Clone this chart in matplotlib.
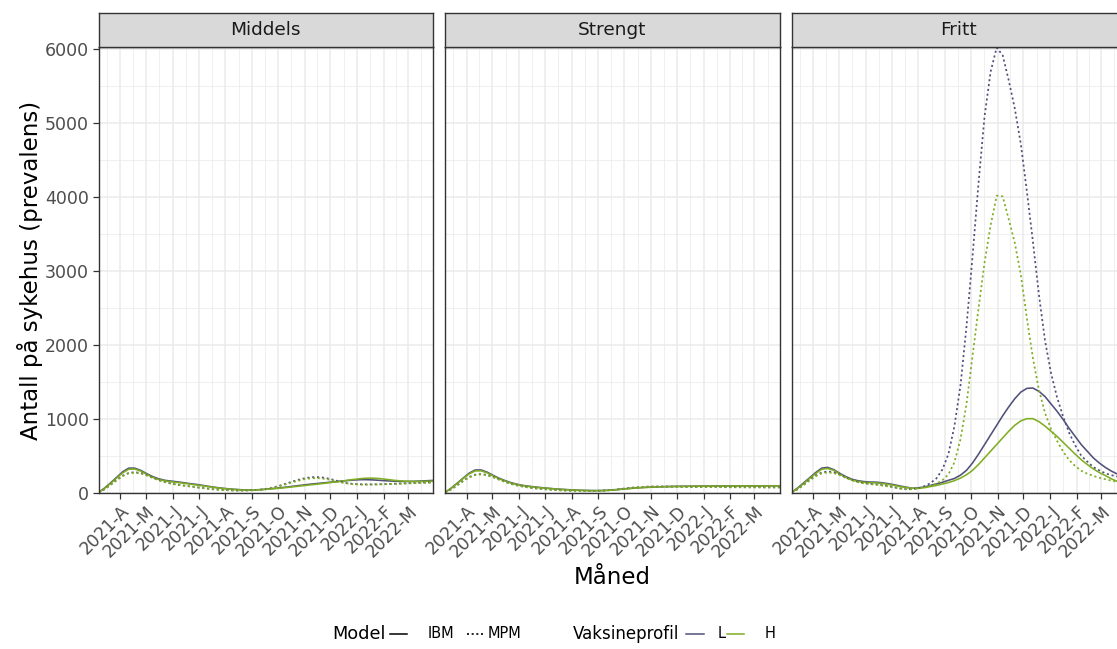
import matplotlib
matplotlib.use('Agg')
import matplotlib.pyplot as plt
from matplotlib.lines import Line2D
import pandas as pd

# Weekly hospital prevalence, March 2021 - April 2022
dates = pd.date_range('2021-03-07', periods=57, freq='7D')

middels_ibm_l = [0, 60, 130, 205, 280, 330, 330, 300, 255, 215,
                 185, 165, 155, 145, 134, 122, 112, 100, 86, 74,
                 63, 54, 46, 40, 36, 35, 36, 40, 47, 55,
                 63, 72, 82, 92, 102, 112, 120, 128, 136, 145,
                 153, 160, 167, 172, 174, 172, 168, 162, 157, 153,
                 150, 150, 151, 154, 158, 162, 165]
middels_ibm_h = [0, 55, 122, 195, 265, 315, 318, 290, 245, 205,
                 175, 158, 145, 136, 126, 115, 104, 93, 81, 70,
                 60, 51, 44, 39, 35, 34, 35, 38, 44, 51,
                 58, 66, 75, 84, 93, 102, 111, 120, 130, 140,
                 150, 162, 174, 184, 192, 195, 192, 185, 175, 165,
                 158, 153, 150, 150, 151, 153, 155]
middels_mpm_l = [0, 45, 105, 170, 228, 265, 275, 265, 235, 200,
                 168, 142, 122, 108, 96, 85, 74, 64, 54, 45,
                 38, 33, 29, 27, 27, 29, 33, 40, 52, 70,
                 92, 118, 145, 170, 190, 205, 210, 205, 190, 170,
                 148, 130, 118, 112, 110, 110, 111, 113, 116, 119,
                 122, 125, 128, 131, 134, 137, 140]
middels_mpm_h = [0, 43, 102, 165, 222, 258, 268, 258, 230, 196,
                 165, 140, 120, 106, 94, 83, 72, 62, 52, 43,
                 36, 31, 28, 26, 26, 28, 32, 39, 50, 66,
                 86, 110, 135, 158, 177, 190, 195, 191, 178, 160,
                 140, 124, 114, 109, 107, 107, 108, 110, 113, 116,
                 119, 122, 125, 128, 131, 134, 137]

strengt_ibm_l = [0, 58, 125, 195, 262, 305, 305, 275, 232, 192,
                 160, 132, 110, 95, 84, 74, 66, 58, 51, 45,
                 40, 36, 32, 29, 27, 26, 27, 30, 36, 44,
                 52, 58, 64, 69, 73, 76, 79, 81, 83, 84,
                 85, 86, 87, 88, 88, 89, 89, 89, 90, 90,
                 90, 90, 90, 91, 91, 91, 91]
strengt_ibm_h = [0, 55, 120, 188, 252, 292, 293, 265, 224, 185,
                 154, 127, 106, 91, 80, 71, 63, 56, 49, 43,
                 38, 34, 31, 28, 26, 25, 26, 29, 34, 41,
                 49, 56, 62, 67, 71, 74, 77, 79, 81, 82,
                 83, 84, 85, 86, 86, 87, 87, 87, 88, 88,
                 88, 88, 88, 89, 89, 89, 89]
strengt_mpm_l = [0, 42, 98, 158, 210, 242, 250, 238, 210, 176,
                 144, 117, 96, 80, 67, 57, 49, 42, 36, 31,
                 27, 24, 22, 21, 21, 22, 25, 30, 37, 46,
                 56, 65, 72, 77, 80, 81, 81, 80, 79, 78,
                 77, 76, 75, 74, 74, 73, 73, 72, 72, 72,
                 71, 71, 71, 70, 70, 70, 70]
strengt_mpm_h = [0, 40, 95, 153, 204, 236, 244, 232, 205, 172,
                 140, 114, 94, 78, 65, 55, 47, 40, 35, 30,
                 26, 23, 21, 20, 20, 21, 24, 29, 36, 45,
                 55, 64, 71, 76, 79, 80, 80, 79, 78, 77,
                 76, 75, 74, 73, 73, 72, 72, 71, 71, 71,
                 70, 70, 70, 69, 69, 69, 69]

fritt_ibm_l = [0, 60, 130, 200, 270, 330, 340, 310, 260, 215,
               180, 160, 148, 142, 140, 132, 120, 105, 88, 72,
               58, 62, 75, 95, 115, 138, 165, 190, 235, 300,
               400, 520, 650, 780, 910, 1040, 1160, 1270, 1360, 1410,
               1415, 1370, 1300, 1200, 1100, 990, 870, 760, 650, 560,
               470, 400, 340, 290, 250, 215, 185]
fritt_ibm_h = [0, 55, 120, 190, 255, 315, 325, 300, 250, 205,
               170, 150, 138, 132, 130, 122, 110, 96, 80, 68,
               58, 56, 65, 80, 95, 115, 135, 160, 195, 240,
               300, 380, 470, 560, 650, 740, 830, 910, 970, 1000,
               1000, 960, 900, 830, 760, 680, 600, 520, 445, 380,
               320, 270, 230, 185, 150, 125, 105]
fritt_mpm_l = [0, 45, 105, 170, 230, 270, 285, 275, 245, 205,
               170, 145, 128, 118, 110, 100, 88, 70, 55, 45,
               45, 58, 85, 125, 190, 310, 520, 900, 1450, 2250,
               3200, 4200, 5100, 5700, 6025, 5920, 5580, 5200, 4720, 4080,
               3400, 2680, 2060, 1620, 1290, 1030, 810, 640, 500, 420,
               345, 300, 260, 235, 215, 195, 180]
fritt_mpm_h = [0, 42, 100, 162, 220, 258, 272, 262, 235, 198,
               165, 140, 123, 113, 105, 95, 83, 68, 54, 45,
               44, 52, 68, 90, 120, 165, 245, 410, 720, 1200,
               1850, 2500, 3120, 3620, 4020, 4010, 3700, 3380, 2950, 2360,
               1820, 1390, 1080, 860, 700, 555, 440, 360, 295, 255,
               225, 200, 180, 160, 145, 130, 120]

panel_titles = ['Middels', 'Strengt', 'Fritt']
panel_series = [
    (middels_ibm_l, middels_ibm_h, middels_mpm_l, middels_mpm_h),
    (strengt_ibm_l, strengt_ibm_h, strengt_mpm_l, strengt_mpm_h),
    (fritt_ibm_l, fritt_ibm_h, fritt_mpm_l, fritt_mpm_h),
]

month_ticks = pd.date_range('2021-04-01', '2022-03-01', freq='MS')
month_labels = ['2021-A', '2021-M', '2021-J', '2021-J', '2021-A', '2021-S',
                '2021-O', '2021-N', '2021-D', '2022-J', '2022-F', '2022-M']
y_ticks = [0, 1000, 2000, 3000, 4000, 5000, 6000]

col_l = '#50507a'
col_h = '#7fae22'
dotted = (0, (1.2, 1.6))
grid_col = '#ebebeb'
frame_col = '#333333'
tick_col = '#4d4d4d'

W, H = 1117, 649


def box(x0, y0, x1, y1):
    return [x0 / W, 1 - y1 / H, (x1 - x0) / W, (y1 - y0) / H]


def fx(x):
    return x / W


def fy(y):
    return 1 - y / H


# mid-month minor gridlines
starts = pd.date_range('2021-03-01', '2022-04-01', freq='MS')
minor_x = [a + (b - a) / 2 for a, b in zip(starts[:-1], starts[1:])]

fig = plt.figure(figsize=(W / 100, H / 100), dpi=100)

panel_x = [(98.5, 433), (445, 779.5), (791.5, 1126)]
top, bottom, strip_top = 46.5, 492.5, 13

for i, (x0, x1) in enumerate(panel_x):
    ax = fig.add_axes(box(x0, top, x1, bottom))
    ibm_l, ibm_h, mpm_l, mpm_h = panel_series[i]
    ax.plot(dates, ibm_l, color=col_l, lw=1.15)
    ax.plot(dates, ibm_h, color=col_h, lw=1.15)
    ax.plot(dates, mpm_l, color=col_l, lw=1.25, linestyle=dotted)
    ax.plot(dates, mpm_h, color=col_h, lw=1.25, linestyle=dotted)

    ax.set_xlim(pd.Timestamp('2021-03-07'), pd.Timestamp('2022-03-30'))
    ax.set_ylim(0, 6040)
    ax.set_xticks(month_ticks)
    ax.set_xticklabels(month_labels, rotation=45, ha='right', va='top',
                       rotation_mode='anchor', fontsize=12.3, color=tick_col)
    ax.set_xticks(minor_x, minor=True)
    ax.set_yticks(y_ticks)
    ax.set_yticks([500, 1500, 2500, 3500, 4500, 5500], minor=True)
    ax.grid(which='major', color=grid_col, lw=1.1, zorder=0)
    ax.grid(which='minor', color=grid_col, lw=0.55, zorder=0)
    ax.set_axisbelow(True)
    ax.tick_params(axis='both', which='major', length=4, width=0.9,
                   color=frame_col, pad=3)
    ax.tick_params(axis='both', which='minor', length=0)
    if i == 0:
        ax.set_yticklabels([str(v) for v in y_ticks], fontsize=12.5, color=tick_col)
    else:
        ax.tick_params(axis='y', which='major', length=0, labelleft=False)
    for s in ax.spines.values():
        s.set_color(frame_col)
        s.set_linewidth(1.0)

    strip = fig.add_axes(box(x0, strip_top, x1, top))
    strip.set_facecolor('#d9d9d9')
    strip.set_xticks([])
    strip.set_yticks([])
    for s in strip.spines.values():
        s.set_color(frame_col)
        s.set_linewidth(1.0)
    strip.text(0.5, 0.5, panel_titles[i], ha='center', va='center',
               fontsize=13.3, color='#1a1a1a', transform=strip.transAxes)

fig.text(fx(30), fy(270), 'Antall på sykehus (prevalens)', rotation=90,
         ha='center', va='center', fontsize=16.5)
fig.text(fx(612), fy(578), 'Måned', ha='center', va='center', fontsize=16.5)

# legend row
ly = fy(634)
fig.text(fx(332), ly, 'Model', ha='left', va='center', fontsize=12.8)
fig.add_artist(Line2D([fx(390), fx(407)], [ly, ly], color='black', lw=1.1,
                      transform=fig.transFigure))
fig.text(fx(428), ly, 'IBM', ha='left', va='center', fontsize=10.5)
fig.add_artist(Line2D([fx(467), fx(483)], [ly, ly], color='black', lw=1.2,
                      linestyle=dotted, transform=fig.transFigure))
fig.text(fx(488), ly, 'MPM', ha='left', va='center', fontsize=10.5)
fig.text(fx(573), ly, 'Vaksineprofil', ha='left', va='center', fontsize=12)
fig.add_artist(Line2D([fx(686), fx(704)], [ly, ly], color=col_l, lw=1.1,
                      transform=fig.transFigure))
fig.text(fx(718), ly, 'L', ha='left', va='center', fontsize=10.5)
fig.add_artist(Line2D([fx(727), fx(744)], [ly, ly], color=col_h, lw=1.1,
                      transform=fig.transFigure))
fig.text(fx(765), ly, 'H', ha='left', va='center', fontsize=10.5)

fig.savefig('out.png', dpi=100)
